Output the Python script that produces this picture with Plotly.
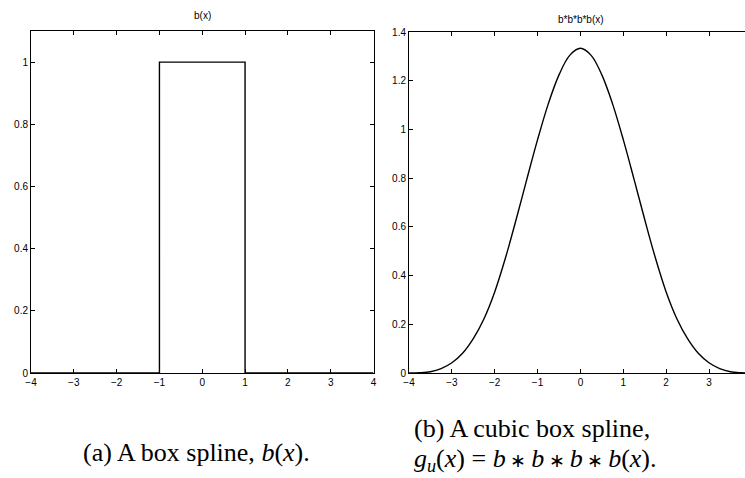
import plotly.graph_objects as go

# Left panel: box spline b(x)
box_x = [-4, -1, -1, 1, 1, 4]
box_y = [0, 0, 1, 1, 0, 0]

# Right panel: cubic box spline b*b*b*b(x)
cub_x = [-4, -3.75, -3.5, -3.25, -3, -2.75, -2.5, -2.25, -2, -1.75, -1.5, -1.25, -1,
         -0.75, -0.5, -0.25, 0, 0.25, 0.5, 0.75, 1, 1.25, 1.5, 1.75, 2, 2.25, 2.5,
         2.75, 3, 3.25, 3.5, 3.75, 4]
cub_y = [0, 0.001, 0.005, 0.018, 0.042, 0.081, 0.141, 0.223, 0.333, 0.472, 0.630, 0.796, 0.958,
         1.105, 1.224, 1.304, 1.333, 1.304, 1.224, 1.105, 0.958, 0.796, 0.630, 0.472, 0.333,
         0.223, 0.141, 0.081, 0.042, 0.018, 0.005, 0.001, 0]

left_xticks = [-4, -3, -2, -1, 0, 1, 2, 3, 4]
left_yticks = [0, 0.2, 0.4, 0.6, 0.8, 1]
right_xticks = [-4, -3, -2, -1, 0, 1, 2, 3]
right_yticks = [0, 0.2, 0.4, 0.6, 0.8, 1, 1.2, 1.4]

W, H = 745, 478

fig = go.Figure()
fig.add_trace(go.Scatter(x=box_x, y=box_y, mode="lines",
                         line=dict(color="black", width=1.4), xaxis="x", yaxis="y",
                         showlegend=False, hoverinfo="skip"))
fig.add_trace(go.Scatter(x=cub_x, y=cub_y, mode="lines", line_shape="spline",
                         line=dict(color="black", width=1.4), xaxis="x2", yaxis="y2",
                         showlegend=False, hoverinfo="skip"))

tickfont = dict(family="Liberation Sans, Arial", size=10, color="black")
common = dict(showgrid=False, zeroline=False, showline=True, linecolor="black",
              linewidth=1, ticks="inside", ticklen=4, tickcolor="black",
              tickwidth=1, tickfont=tickfont, automargin=False)

def px_x(p):
    return p / W

def px_y(p):
    return 1 - p / H

fig.update_layout(
    width=W, height=H,
    margin=dict(l=0, r=0, t=0, b=0),
    paper_bgcolor="white", plot_bgcolor="white",
    xaxis=dict(domain=[px_x(31), px_x(373.5)], range=[-4, 4], tickvals=left_xticks,
               anchor="y", mirror="ticks", **common),
    yaxis=dict(domain=[px_y(373), px_y(31)], range=[0, 1.1], tickvals=left_yticks,
               anchor="x", mirror="ticks", **common),
    xaxis2=dict(domain=[px_x(409), 1.0], range=[-4, 3.84], tickvals=right_xticks,
                anchor="y2", mirror="ticks", **common),
    yaxis2=dict(domain=[px_y(373), px_y(32)], range=[0, 1.4], tickvals=right_yticks,
                anchor="x2", mirror=False, **common),
)

title_font = dict(family="Liberation Sans, Arial", size=10, color="black")
cap_font = dict(family="Liberation Serif, Times New Roman, serif", size=26, color="black")

star = '<span style="font-size:19px"> ∗ </span>'

annotations = [
    dict(text="b(x)", x=px_x(202), y=px_y(16), xref="paper", yref="paper",
         showarrow=False, font=title_font, xanchor="center", yanchor="middle"),
    dict(text="b*b*b*b(x)", x=px_x(581), y=px_y(19), xref="paper", yref="paper",
         showarrow=False, font=title_font, xanchor="center", yanchor="middle"),
    dict(text="(a) A box spline, <i>b</i>(<i>x</i>).", x=px_x(196), y=px_y(452),
         xref="paper", yref="paper", showarrow=False, font=cap_font,
         xanchor="center", yanchor="middle"),
    dict(text="(b) A cubic box spline,", x=px_x(412), y=px_y(428),
         xref="paper", yref="paper", showarrow=False, font=cap_font,
         xanchor="left", yanchor="middle"),
    dict(text="<i>g</i><sub><i>u</i></sub>(<i>x</i>) = <i>b</i>" + star + "<i>b</i>" + star
         + "<i>b</i>" + star + "<i>b</i>(<i>x</i>).",
         x=px_x(412), y=px_y(460), xref="paper", yref="paper", showarrow=False,
         font=cap_font, xanchor="left", yanchor="middle"),
]
fig.update_layout(annotations=annotations)

fig.write_html("out.html")
